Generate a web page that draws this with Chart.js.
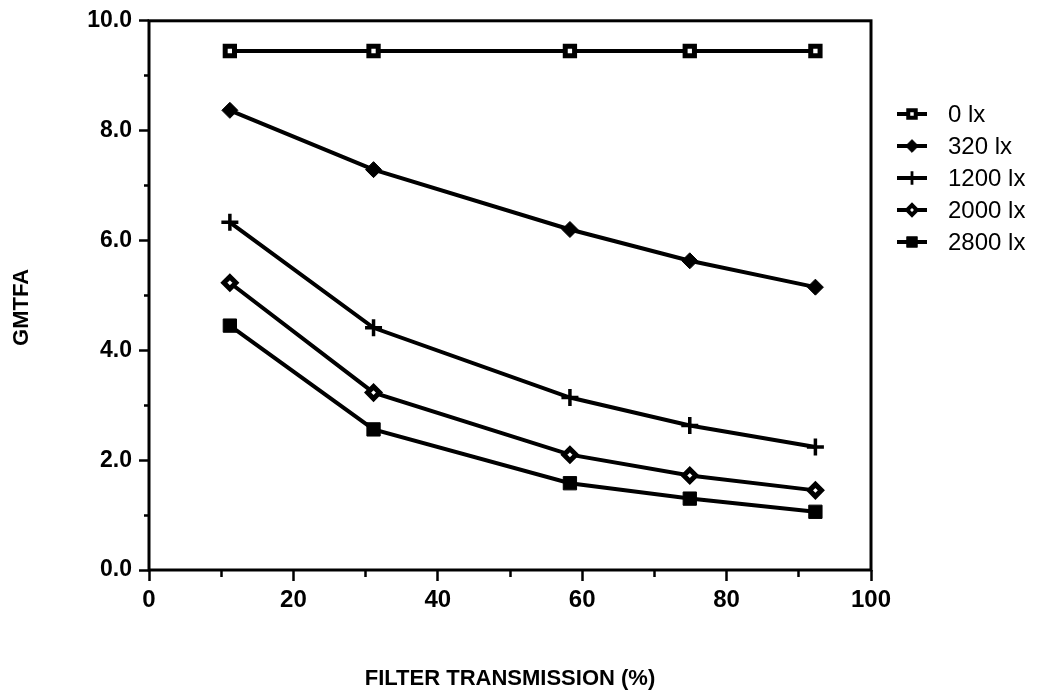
<!DOCTYPE html>
<html>
<head>
<meta charset="utf-8">
<title>GMTFA vs filter transmission</title>
<script src="https://cdn.jsdelivr.net/npm/chart.js@4/dist/chart.umd.min.js"></script>
<style>
  html, body { margin: 0; padding: 0; background: #fff; }
  #wrap { width: 1039px; height: 695px; }
</style>
</head>
<body>
<div id="wrap"><canvas id="chart" width="1039" height="695"></canvas></div>
<script>
// Filter transmission (%) at which each illuminance was measured
const transmission = [11.2, 31.1, 58.3, 74.9, 92.3];

// GMTFA per ambient illuminance
const lux0    = [9.45, 9.45, 9.45, 9.45, 9.45];
const lux320  = [8.37, 7.29, 6.20, 5.63, 5.15];
const lux1200 = [6.33, 4.41, 3.14, 2.63, 2.24];
const lux2000 = [5.23, 3.23, 2.10, 1.72, 1.45];
const lux2800 = [4.45, 2.56, 1.58, 1.30, 1.06];

const seriesLabels = ['0 lx', '320 lx', '1200 lx', '2000 lx', '2800 lx'];
const seriesValues = [lux0, lux320, lux1200, lux2000, lux2800];

// Labelled tick values
const xTickLabels = [0, 20, 40, 60, 80, 100];
const yTickLabels = [0, 2, 4, 6, 8, 10];

const INK = '#000000';
const PAPER = '#ffffff';
const FAMILY = '"Liberation Sans", Arial, Helvetica, sans-serif';

// Marker look for each series, in series order
const markerStyles = [
  { pointStyle: 'rect',    radius: 6.6, fill: PAPER, border: 5 },   // open square
  { pointStyle: 'rectRot', radius: 8,   fill: INK,   border: 1 },   // filled diamond
  { pointStyle: 'cross',   radius: 8.5, fill: INK,   border: 3.5 }, // plus
  { pointStyle: 'rectRot', radius: 6,   fill: PAPER, border: 5 },   // open diamond
  { pointStyle: 'rect',    radius: 9.4, fill: INK,   border: 1 }    // filled square
];

const datasets = seriesLabels.map((label, i) => ({
  label,
  data: transmission.map((x, j) => ({ x, y: seriesValues[i][j] })),
  showLine: true,
  borderColor: INK,
  borderWidth: 4,
  pointStyle: markerStyles[i].pointStyle,
  pointRadius: markerStyles[i].radius,
  pointHoverRadius: markerStyles[i].radius,
  pointBackgroundColor: markerStyles[i].fill,
  pointBorderColor: INK,
  pointBorderWidth: markerStyles[i].border,
  tension: 0
}));

// Box around the plotting area
const frame = {
  id: 'frame',
  afterDatasetsDraw(chart) {
    const { ctx, chartArea: a } = chart;
    ctx.save();
    ctx.strokeStyle = INK;
    ctx.lineWidth = 3;
    ctx.strokeRect(a.left, a.top, a.right - a.left, a.bottom - a.top);
    ctx.restore();
  }
};

// Vertical y-axis title, placed a little below the middle of the plot
const yTitle = {
  id: 'yTitle',
  afterDraw(chart, args, opts) {
    const { ctx, chartArea } = chart;
    const cy = (chartArea.top + chartArea.bottom) / 2 + opts.shiftY;
    ctx.save();
    ctx.translate(opts.x, cy);
    ctx.rotate(-Math.PI / 2);
    ctx.fillStyle = INK;
    ctx.font = opts.font;
    ctx.textAlign = 'center';
    ctx.textBaseline = 'middle';
    ctx.fillText(opts.text, 0, 0);
    ctx.restore();
  }
};

// Legend to the right: a short line segment with the series marker, then the label
const sideLegend = {
  id: 'sideLegend',
  afterDraw(chart, args, opts) {
    const { ctx, chartArea } = chart;
    const x0 = chartArea.right + opts.offsetX;
    chart.data.datasets.forEach((ds, i) => {
      const y = opts.top + i * opts.spacing;
      ctx.save();
      ctx.strokeStyle = ds.borderColor;
      ctx.lineWidth = ds.borderWidth;
      ctx.beginPath();
      ctx.moveTo(x0, y);
      ctx.lineTo(x0 + opts.lineLength, y);
      ctx.stroke();
      ctx.fillStyle = ds.pointBackgroundColor;
      ctx.strokeStyle = ds.pointBorderColor;
      ctx.lineWidth = ds.pointBorderWidth * opts.markerScale;
      Chart.helpers.drawPoint(ctx, {
        pointStyle: ds.pointStyle,
        radius: ds.pointRadius * opts.markerScale,
        borderWidth: ds.pointBorderWidth * opts.markerScale,
        rotation: 0
      }, x0 + opts.lineLength / 2, y);
      ctx.fillStyle = INK;
      ctx.font = opts.font;
      ctx.textAlign = 'left';
      ctx.textBaseline = 'middle';
      ctx.fillText(ds.label, x0 + opts.textOffset, y + 1);
      ctx.restore();
    });
  }
};

new Chart(document.getElementById('chart'), {
  type: 'scatter',
  data: { datasets },
  plugins: [frame, yTitle, sideLegend],
  options: {
    responsive: false,
    animation: false,
    events: [],
    layout: { padding: { left: 0, right: 168, top: 19, bottom: 0 } },
    plugins: {
      legend: { display: false },
      tooltip: { enabled: false },
      yTitle: {
        text: 'GMTFA',
        x: 22,
        shiftY: 12,
        font: 'bold 22px ' + FAMILY
      },
      sideLegend: {
        offsetX: 26,
        top: 114,
        spacing: 32,
        lineLength: 30,
        markerScale: 0.8,
        textOffset: 51,
        font: '24px ' + FAMILY
      }
    },
    scales: {
      x: {
        type: 'linear',
        min: 0,
        max: 100,
        afterFit(scale) { scale.height = 125; },
        border: { display: false },
        grid: {
          drawOnChartArea: false,
          drawTicks: true,
          tickLength: 11,
          tickWidth: 2.5,
          tickColor: INK,
          tickBorderDash: (ctx) => (ctx.tick && xTickLabels.includes(ctx.tick.value)) ? [] : [7, 100]
        },
        ticks: {
          stepSize: 10,
          padding: 5,
          color: INK,
          maxRotation: 0,
          autoSkip: false,
          font: { family: FAMILY, size: 24, weight: 'bold' },
          callback: (v) => xTickLabels.includes(v) ? String(v) : ''
        },
        title: {
          display: true,
          text: 'FILTER TRANSMISSION (%)',
          color: INK,
          font: { family: FAMILY, size: 22, weight: 'bold' },
          padding: { top: 0, bottom: 3 }
        }
      },
      y: {
        type: 'linear',
        min: 0,
        max: 10,
        afterFit(scale) { scale.width = 149; },
        border: { display: false },
        grid: {
          drawOnChartArea: false,
          drawTicks: true,
          tickLength: 10,
          tickWidth: 2.5,
          tickColor: INK,
          tickBorderDash: (ctx) => (ctx.tick && yTickLabels.includes(ctx.tick.value)) ? [] : [0, 5, 5, 100]
        },
        ticks: {
          stepSize: 1,
          padding: 7,
          color: INK,
          autoSkip: false,
          font: { family: FAMILY, size: 23, weight: 'bold' },
          callback: (v) => yTickLabels.includes(v) ? v.toFixed(1) : ''
        },
        title: { display: false }
      }
    }
  }
});
</script>
</body>
</html>
